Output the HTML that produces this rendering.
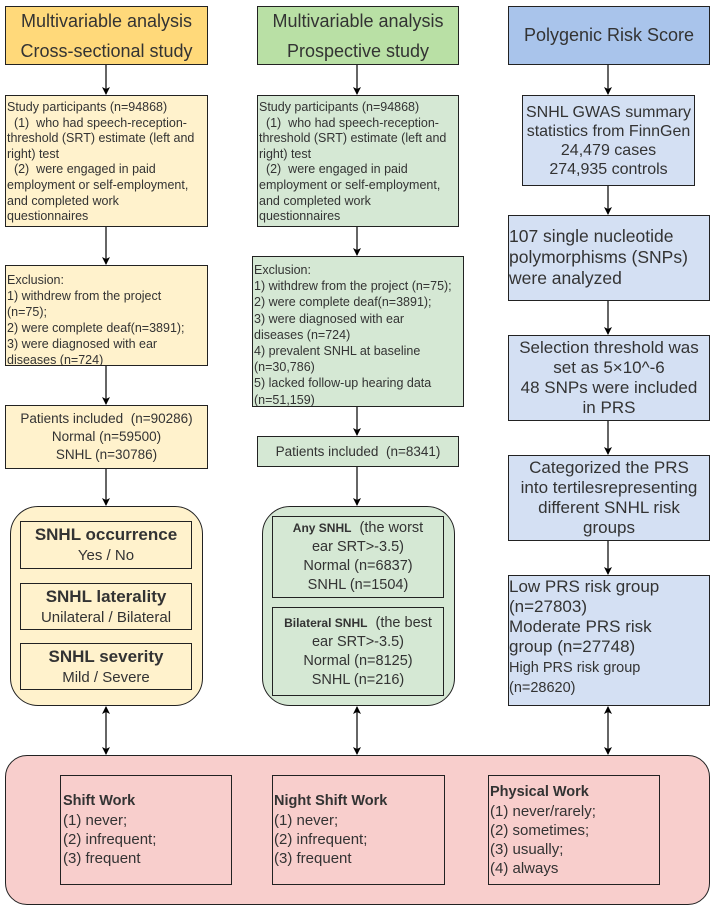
<!DOCTYPE html>
<html><head><style>
body{margin:0;width:711px;height:912px;background:#fff;position:relative;font-family:"Liberation Sans",sans-serif;color:#333;overflow:hidden}
.b{position:absolute;box-sizing:border-box;border:1.5px solid #222;overflow:hidden;white-space:nowrap}
.y{background:#fff2cc}.yh{background:#ffd97a}.g{background:#d5e8d4}.gh{background:#b9e0a5}.bl{background:#d4e0f3}.bh{background:#a9c4eb}.r{background:#f8cecc}
.c{display:flex;align-items:center;justify-content:center;text-align:center;flex-direction:column}
.s{font-size:12.5px;line-height:16px;padding:0 1px}
.m{font-size:16.5px;line-height:20px}
svg{position:absolute;left:0;top:0}
</style></head><body>
<svg width="711" height="912">
<defs><marker id="a" markerWidth="8" markerHeight="8" refX="7" refY="4" orient="auto-start-reverse" markerUnits="userSpaceOnUse"><path d="M0,0 L8,4 L0,8 L2,4z" fill="#000"/></marker></defs>
<g stroke="#000" stroke-width="1.2" fill="none" marker-end="url(#a)">
<line x1="106" y1="64" x2="106" y2="94"/><line x1="106" y1="226" x2="106" y2="264"/><line x1="106" y1="365" x2="106" y2="404"/><line x1="106" y1="468" x2="106" y2="505"/>
<line x1="357" y1="64" x2="357" y2="94"/><line x1="357" y1="226" x2="357" y2="255"/><line x1="357" y1="406" x2="357" y2="435"/><line x1="357" y1="466" x2="357" y2="505"/>
<line x1="608" y1="64" x2="608" y2="94"/><line x1="608" y1="185" x2="608" y2="214"/><line x1="608" y1="300" x2="608" y2="334"/><line x1="608" y1="420" x2="608" y2="454"/><line x1="608" y1="540" x2="608" y2="574"/>
<line x1="106" y1="707" x2="106" y2="754" marker-start="url(#a)"/>
<line x1="357" y1="707" x2="357" y2="754" marker-start="url(#a)"/>
<line x1="608" y1="707" x2="608" y2="754" marker-start="url(#a)"/>
</g></svg>

<div class="b yh c" style="left:5px;top:6px;width:203px;height:59px;font-size:18px;line-height:30px">Multivariable analysis<br>Cross-sectional study</div>
<div class="b gh c" style="left:257px;top:6px;width:202px;height:59px;font-size:18px;line-height:30px">Multivariable analysis<br>Prospective study</div>
<div class="b bh c" style="left:508px;top:6px;width:202px;height:59px;font-size:18px">Polygenic Risk Score</div>

<div class="b y s" style="left:5px;top:95px;width:203px;height:132px;padding-top:4px;line-height:15.6px">Study participants (n=94868)<br>&nbsp;&nbsp;(1)&nbsp; who had speech-reception-<br>threshold (SRT) estimate (left and<br>right) test<br>&nbsp;&nbsp;(2)&nbsp; were engaged in paid<br>employment or self-employment,<br>and completed work<br>questionnaires</div>
<div class="b g s" style="left:257px;top:95px;width:202px;height:132px;padding-top:4px;line-height:15.6px">Study participants (n=94868)<br>&nbsp;&nbsp;(1)&nbsp; who had speech-reception-<br>threshold (SRT) estimate (left and<br>right) test<br>&nbsp;&nbsp;(2)&nbsp; were engaged in paid<br>employment or self-employment,<br>and completed work<br>questionnaires</div>

<div class="b y s" style="left:5px;top:265px;width:203px;height:101px;padding-top:6px">Exclusion:<br>1) withdrew from the project<br>(n=75);<br>2) were complete deaf(n=3891);<br>3) were diagnosed with ear<br>diseases (n=724)</div>
<div class="b g s" style="left:252px;top:256px;width:212px;height:151px;padding-top:5px;line-height:16.2px">Exclusion:<br>1) withdrew from the project (n=75);<br>2) were complete deaf(n=3891);<br>3) were diagnosed with ear<br>diseases (n=724)<br>4) prevalent SNHL at baseline<br>(n=30,786)<br>5) lacked follow-up hearing data<br>(n=51,159)</div>

<div class="b y c" style="left:5px;top:405px;width:203px;height:64px;font-size:13.5px;line-height:18px">Patients included&nbsp; (n=90286)<br>Normal (n=59500)<br>SNHL (n=30786)</div>
<div class="b g c" style="left:257px;top:436px;width:202px;height:31px;font-size:13.5px">Patients included&nbsp; (n=8341)</div>

<div class="b y" style="left:10px;top:506px;width:193px;height:200px;border-radius:28px"></div>
<div class="b y c" style="left:20px;top:521px;width:172px;height:48px;font-size:15px;line-height:21px"><b style="font-size:17px">SNHL occurrence</b>Yes / No</div>
<div class="b y c" style="left:20px;top:583px;width:172px;height:47px;font-size:15px;line-height:21px"><b style="font-size:17px">SNHL laterality</b>Unilateral / Bilateral</div>
<div class="b y c" style="left:20px;top:643px;width:172px;height:47px;font-size:15px;line-height:21px"><b style="font-size:17px">SNHL severity</b>Mild / Severe</div>

<div class="b g" style="left:262px;top:506px;width:193px;height:200px;border-radius:28px"></div>
<div class="b g c" style="left:272px;top:516px;width:172px;height:82px;font-size:14.5px;line-height:19px"><span><b style="font-size:12px">Any SNHL</b>&nbsp; (the worst</span>ear SRT&gt;-3.5)<br>Normal (n=6837)<br>SNHL (n=1504)</div>
<div class="b g c" style="left:272px;top:607px;width:172px;height:89px;font-size:14.5px;line-height:19px"><span><b style="font-size:12px">Bilateral SNHL</b>&nbsp; (the best</span>ear SRT&gt;-3.5)<br>Normal (n=8125)<br>SNHL (n=216)</div>

<div class="b bl c m" style="left:522px;top:95px;width:173px;height:91px;line-height:19px;font-size:16px">SNHL GWAS summary<br>statistics from FinnGen<br>24,479 cases<br>274,935 controls</div>
<div class="b bl m" style="left:508px;top:215px;width:202px;height:86px;font-size:17.5px;line-height:21px;padding-top:10px">107 single nucleotide<br>polymorphisms (SNPs)<br>were analyzed</div>
<div class="b bl c m" style="left:508px;top:335px;width:202px;height:86px;font-size:17px;line-height:20px">Selection threshold was<br>set as 5×10^-6<br>48 SNPs were included<br>in PRS</div>
<div class="b bl c m" style="left:508px;top:455px;width:202px;height:86px;font-size:17px;line-height:20px">Categorized the PRS<br>into tertilesrepresenting<br>different SNHL risk<br>groups</div>
<div class="b bl" style="left:508px;top:575px;width:202px;height:131px;font-size:17px;line-height:20px;padding-top:1px">Low PRS risk group<br>(n=27803)<br>Moderate PRS risk<br>group (n=27748)<br><span style="font-size:14.5px;line-height:18px">High PRS risk group<br>(n=28620)</span></div>

<div class="b r" style="left:5px;top:755px;width:705px;height:150px;border-radius:22px"></div>
<div class="b r c" style="left:60px;top:775px;width:172px;height:110px;align-items:flex-start;text-align:left;font-size:15px;line-height:19px;padding-left:2px"><b style="font-size:14.5px">Shift Work</b>(1) never;<br>(2) infrequent;<br>(3) frequent</div>
<div class="b r c" style="left:272px;top:775px;width:173px;height:110px;align-items:flex-start;text-align:left;font-size:15px;line-height:19px;padding-left:1px"><b style="font-size:14.5px">Night Shift Work</b>(1) never;<br>(2) infrequent;<br>(3) frequent</div>
<div class="b r c" style="left:488px;top:775px;width:172px;height:110px;align-items:flex-start;text-align:left;font-size:15px;line-height:19px;padding-left:1px"><b style="font-size:14.5px">Physical Work</b>(1) never/rarely;<br>(2) sometimes;<br>(3) usually;<br>(4) always</div>
</body></html>
